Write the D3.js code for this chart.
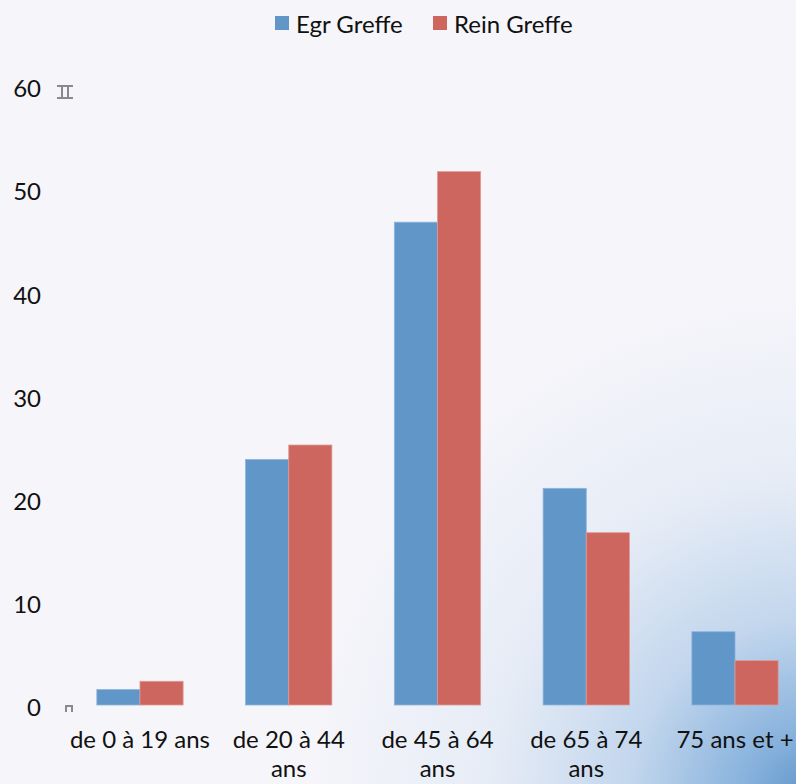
<!DOCTYPE html>
<html><head><meta charset="utf-8">
<script src="https://cdn.jsdelivr.net/npm/d3@7"></script>
<style>html,body{margin:0;padding:0;background:#f5f5fa;}svg{display:block;font-family:Lato,"Open Sans",sans-serif;}</style>
</head><body>
<svg id="c" width="796" height="784"></svg>
<script>
const categories = [["de 0 à 19 ans"], ["de 20 à 44", "ans"], ["de 45 à 64", "ans"], ["de 65 à 74", "ans"], ["75 ans et +"]];
const seriesNames = ["Egr Greffe", "Rein Greffe"];
const egrGreffe = [1.5, 23.8, 46.8, 21.0, 7.1];
const reinGreffe = [2.3, 25.2, 51.7, 16.7, 4.3];
const yTicks = [0, 10, 20, 30, 40, 50, 60];
const colors = ["#6096c8", "#cc665e"];

const W = 796, H = 784;
const FS = 24;
const svg = d3.select("#c");
const defs = svg.append("defs");
const rg = defs.append("radialGradient").attr("id","bg").attr("gradientUnits","userSpaceOnUse")
  .attr("cx",810).attr("cy",800).attr("r",640);
rg.append("stop").attr("offset",0).attr("stop-color","#5e94c8");
rg.append("stop").attr("offset",0.1).attr("stop-color","#86b1dc");
rg.append("stop").attr("offset",0.28).attr("stop-color","#c2d6ed");
rg.append("stop").attr("offset",0.5).attr("stop-color","#e6ecf6");
rg.append("stop").attr("offset",0.78).attr("stop-color","#f5f5fa");
rg.append("stop").attr("offset",1).attr("stop-color","#f5f5fa");
svg.append("rect").attr("width",W).attr("height",H).attr("fill","url(#bg)");

const y = d3.scaleLinear().domain([0,60]).range([705, 86]);
const x0 = d3.scaleBand().domain(d3.range(categories.length)).range([65.6, 809.4]).paddingInner(0.42).paddingOuter(0.21);
const x1 = d3.scaleBand().domain([0,1]).range([0, x0.bandwidth()]);

const series = [egrGreffe, reinGreffe];
series.forEach((vals, si) => {
  svg.append("g").selectAll("rect").data(vals).join("rect")
    .attr("x", (d,i) => x0(i) + x1(si))
    .attr("y", d => y(d))
    .attr("width", x1.bandwidth())
    .attr("height", d => y(0) - y(d))
    .attr("fill", colors[si])
    .attr("stroke", si === 0 ? "#8cb4dc" : "#e09a94")
    .attr("stroke-width", 0.8);
});

// y axis labels
const yAxis = d3.axisLeft(y).tickValues(yTicks).tickSize(0).tickPadding(0);
const gy = svg.append("g").attr("transform","translate(41,3)").call(yAxis);
gy.select(".domain").remove();
gy.selectAll("text").attr("font-size",FS).attr("fill","#111").attr("font-family","Lato,'Open Sans',sans-serif");

// small axis glyph artifacts
const gray = "#8a8a8a";
const y60 = y(60), y0v = y(0);
svg.append("path").attr("d",`M57,${y60}h16M57,${y60+12}h16M62,${y60}v12M68,${y60}v12`).attr("stroke",gray).attr("stroke-width",2).attr("fill","none");
svg.append("path").attr("d",`M66,${y0v+7}v-6h6v6`).attr("stroke",gray).attr("stroke-width",2).attr("fill","none");

// x axis labels
const gx = svg.append("g");
categories.forEach((lines, i) => {
  const cx = x0(i) + x0.bandwidth()/2;
  const t = gx.append("text").attr("x", cx).attr("y", 748)
    .attr("text-anchor","middle").attr("font-size",FS).attr("fill","#111");
  lines.forEach((l, k) => t.append("tspan").attr("x", cx).attr("dy", k === 0 ? 0 : 29).text(l));
});

// legend
const legX = [275, 433];
seriesNames.forEach((n, i) => {
  svg.append("rect").attr("x", legX[i]).attr("y", 16).attr("width", 14).attr("height", 14).attr("fill", colors[i]);
  svg.append("text").attr("x", legX[i] + 21).attr("y", 33).attr("font-size", FS).attr("fill", "#111").text(n);
});
</script>
</body></html>
